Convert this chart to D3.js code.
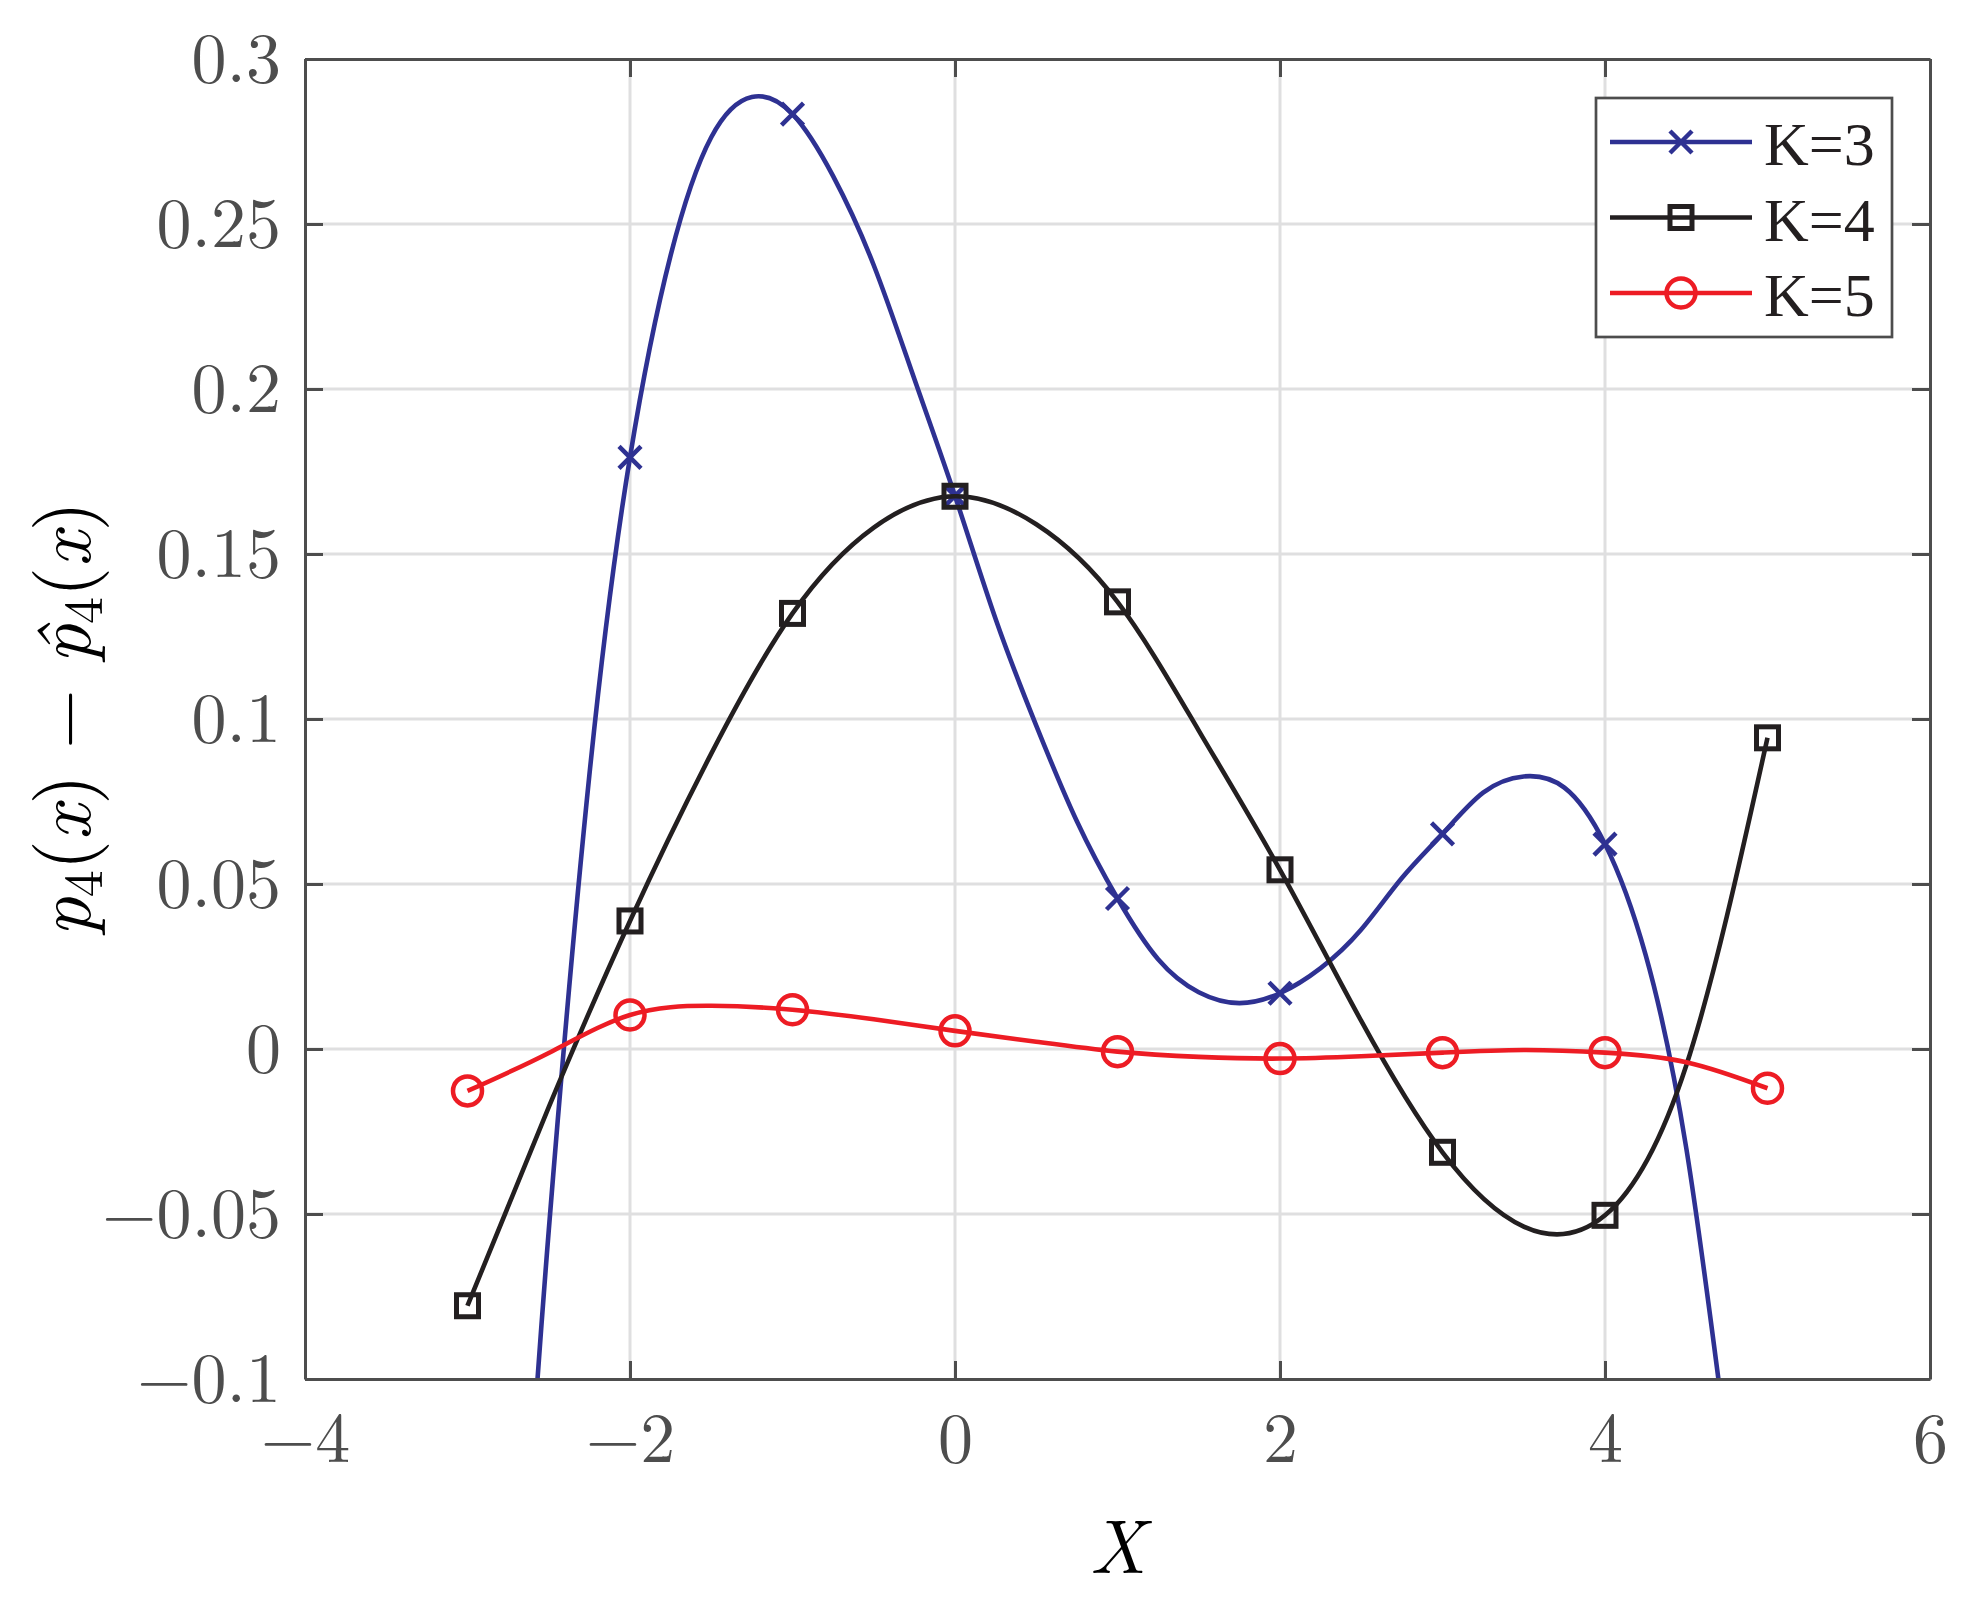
<!DOCTYPE html>
<html>
<head>
<meta charset="utf-8">
<script src="https://cdn.jsdelivr.net/npm/d3@7"></script>
<style>
  html, body { margin: 0; padding: 0; background: #ffffff; }
  svg { display: block; }
</style>
</head>
<body>
<svg id="chart" width="1968" height="1601"></svg>
<script>
// ---------------- data ----------------
const xTicks = [-4, -2, 0, 2, 4, 6];
const xTickLabels = ["\u22124", "\u22122", "0", "2", "4", "6"];
const yTicks = [-0.1, -0.05, 0, 0.05, 0.1, 0.15, 0.2, 0.25, 0.3];
const yTickLabels = ["\u22120.1", "\u22120.05", "0", "0.05", "0.1", "0.15", "0.2", "0.25", "0.3"];

const seriesNames = ["K=3", "K=4", "K=5"];

// curve samples: [x, value]
const k3Curve = [[-2.625,-0.140],[-2.5,-0.055],[-2.25,0.083],[-2.0,0.1793],[-1.75,0.2405],[-1.5,0.2763],
  [-1.25,0.2885],[-1.0,0.2833],[-0.75,0.2645],[-0.5,0.2375],[-0.25,0.203],[0,0.1676],[0.25,0.1303],
  [0.5,0.098],[0.75,0.069],[1.0,0.0456],[1.25,0.0272],[1.5,0.0172],[1.75,0.0139],[2.0,0.0169],
  [2.25,0.0245],[2.5,0.0362],[2.75,0.0518],[3.0,0.0652],[3.25,0.0777],[3.5,0.0826],[3.75,0.0792],
  [4.0,0.0621],[4.25,0.0285],[4.5,-0.030],[4.75,-0.120]];
const k4Curve = [[-3,-0.0778],[-2.5,-0.0176],[-2,0.0388],[-1.5,0.0895],[-1,0.132],[-0.5,0.158],[0,0.1675],
  [0.5,0.159],[1,0.1355],[1.5,0.0965],[2,0.0543],[2.5,0.0085],[3,-0.0313],[3.5,-0.0538],[4,-0.0504],
  [4.5,-0.005],[5,0.0943]];
const k5Curve = [[-3,-0.0127],[-2.5,-0.0012],[-2,0.0103],[-1.5,0.0131],[-1,0.0119],[-0.5,0.0090],[0,0.0055],
  [0.5,0.0022],[1,-0.0008],[1.5,-0.0024],[2,-0.0029],[2.5,-0.0022],[3,-0.0011],[3.5,-0.0003],[4,-0.0011],
  [4.5,-0.0040],[5,-0.0119]];

// marker positions: [x, value]
const k3Markers = [[-2,0.1793],[-1,0.2833],[0,0.1676],[1,0.0456],[2,0.0169],[3,0.0652],[4,0.0621]];
const k4Markers = [[-3,-0.0778],[-2,0.0388],[-1,0.132],[0,0.1675],[1,0.1355],[2,0.0543],[3,-0.0313],[4,-0.0504],[5,0.0943]];
const k5Markers = [[-3,-0.0127],[-2,0.0103],[-1,0.0119],[0,0.0055],[1,-0.0008],[2,-0.0029],[3,-0.0011],[4,-0.0011],[5,-0.0119]];

// ---------------- drawing ----------------
const svg = d3.select("#chart");
const plot = { left: 305, right: 1930, top: 59, bottom: 1379 };
const x = d3.scaleLinear().domain([-4, 6]).range([plot.left, plot.right]);
const y = d3.scaleLinear().domain([-0.1, 0.3]).range([plot.bottom, plot.top]);

const axisColor = "#4d4d4d";
const gridColor = "#dfdfe0";
const cm = "'Latin Modern Roman'";
const times = "'Liberation Serif'";

const series = [
  { name: seriesNames[0], curve: k3Curve, markers: k3Markers, color: "#2e3192", marker: "x" },
  { name: seriesNames[1], curve: k4Curve, markers: k4Markers, color: "#231f20", marker: "square" },
  { name: seriesNames[2], curve: k5Curve, markers: k5Markers, color: "#ed1c24", marker: "circle" }
];

// grid
const grid = svg.append("g");
grid.selectAll("line.gx").data(xTicks.slice(1, -1)).enter().append("line")
  .attr("x1", d => x(d)).attr("x2", d => x(d))
  .attr("y1", y(-0.1)).attr("y2", y(0.3))
  .attr("stroke", gridColor).attr("stroke-width", 3);
grid.selectAll("line.gy").data(yTicks.slice(1, -1)).enter().append("line")
  .attr("y1", d => y(d)).attr("y2", d => y(d))
  .attr("x1", x(-4)).attr("x2", x(6))
  .attr("stroke", gridColor).attr("stroke-width", 3);

// clip
svg.append("defs").append("clipPath").attr("id", "clip")
  .append("rect")
  .attr("x", x(-4)).attr("y", y(0.3))
  .attr("width", x(6) - x(-4)).attr("height", y(-0.1) - y(0.3));

function drawMarker(g, type, cx, cy, color) {
  if (type === "x") {
    const s = 11;
    g.append("path")
      .attr("d", `M${cx - s},${cy - s}L${cx + s},${cy + s}M${cx - s},${cy + s}L${cx + s},${cy - s}`)
      .attr("stroke", color).attr("stroke-width", 4.5).attr("fill", "none");
  } else if (type === "square") {
    const s = 11;
    g.append("rect").attr("x", cx - s).attr("y", cy - s).attr("width", 2 * s).attr("height", 2 * s)
      .attr("stroke", color).attr("stroke-width", 5).attr("fill", "none");
  } else {
    g.append("circle").attr("cx", cx).attr("cy", cy).attr("r", 14.5)
      .attr("stroke", color).attr("stroke-width", 4.5).attr("fill", "none");
  }
}

const line = d3.line()
  .x(d => x(d[0])).y(d => y(d[1]))
  .curve(d3.curveNatural);

const dataG = svg.append("g").attr("clip-path", "url(#clip)");
series.forEach(s => {
  const g = dataG.append("g");
  g.append("path").datum(s.curve)
    .attr("d", line)
    .attr("fill", "none").attr("stroke", s.color).attr("stroke-width", 4.6)
    .attr("stroke-linejoin", "round");
  s.markers.forEach(m => drawMarker(g, s.marker, x(m[0]), y(m[1]), s.color));
});

// axes
function styleAxis(g) {
  g.attr("font-family", null).attr("font-size", null);
  g.selectAll("path.domain").attr("stroke", axisColor).attr("stroke-width", 3);
  g.selectAll(".tick line").attr("stroke", axisColor).attr("stroke-width", 3);
  g.selectAll(".tick text").attr("fill", "#4d4d4d")
    .style("font-family", cm).style("font-size", "70px");
}
svg.append("g").attr("transform", `translate(0,${y(-0.1)})`)
  .call(d3.axisBottom(x).tickValues(xTicks).tickFormat((d, i) => xTickLabels[i])
    .tickSize(-18).tickSizeOuter(0).tickPadding(33))
  .call(styleAxis);
svg.append("g").attr("transform", `translate(0,${y(0.3)})`)
  .call(d3.axisTop(x).tickValues(xTicks).tickFormat("").tickSize(-18).tickSizeOuter(0))
  .call(styleAxis);
svg.append("g").attr("transform", `translate(${x(-4)},0)`)
  .call(d3.axisLeft(y).tickValues(yTicks).tickFormat((d, i) => yTickLabels[i])
    .tickSize(-18).tickSizeOuter(0).tickPadding(24))
  .call(styleAxis);
svg.append("g").attr("transform", `translate(${x(6)},0)`)
  .call(d3.axisRight(y).tickValues(yTicks).tickFormat("").tickSize(-18).tickSizeOuter(0))
  .call(styleAxis);

// axis labels
svg.append("text")
  .attr("x", (x(-4) + x(6)) / 2).attr("y", 1573)
  .attr("text-anchor", "middle")
  .style("font-family", cm).style("font-size", "76px").style("font-style", "italic")
  .attr("fill", "#000").text("X");

const yl = svg.append("text")
  .attr("transform", `translate(90,${(y(-0.1) + y(0.3)) / 2}) rotate(-90)`)
  .attr("text-anchor", "middle")
  .style("font-family", cm).style("font-size", "77px").attr("fill", "#000");
yl.append("tspan").style("font-style", "italic").text("p");
yl.append("tspan").style("font-size", "54px").attr("dy", 12).text("4");
yl.append("tspan").attr("dy", -12).text("(");
yl.append("tspan").style("font-style", "italic").text("x");
yl.append("tspan").text(") \u2212 ");
yl.append("tspan").style("font-style", "italic").text("p\u0302");
yl.append("tspan").style("font-size", "54px").attr("dy", 12).text("4");
yl.append("tspan").attr("dy", -12).text("(");
yl.append("tspan").style("font-style", "italic").text("x");
yl.append("tspan").text(")");

// legend
const leg = svg.append("g");
leg.append("rect").attr("x", 1596).attr("y", 98).attr("width", 296).attr("height", 239)
  .attr("fill", "#fff").attr("stroke", axisColor).attr("stroke-width", 2.7);
series.forEach((s, i) => {
  const cy = 142 + i * 75.5;
  leg.append("line").attr("x1", 1610).attr("x2", 1752).attr("y1", cy).attr("y2", cy)
    .attr("stroke", s.color).attr("stroke-width", 4.6);
  drawMarker(leg, s.marker, 1681, cy, s.color);
  leg.append("text").attr("x", 1764).attr("y", cy + 23)
    .style("font-family", times).style("font-size", "62px").attr("fill", "#231f20")
    .text(s.name);
});
</script>
</body>
</html>
